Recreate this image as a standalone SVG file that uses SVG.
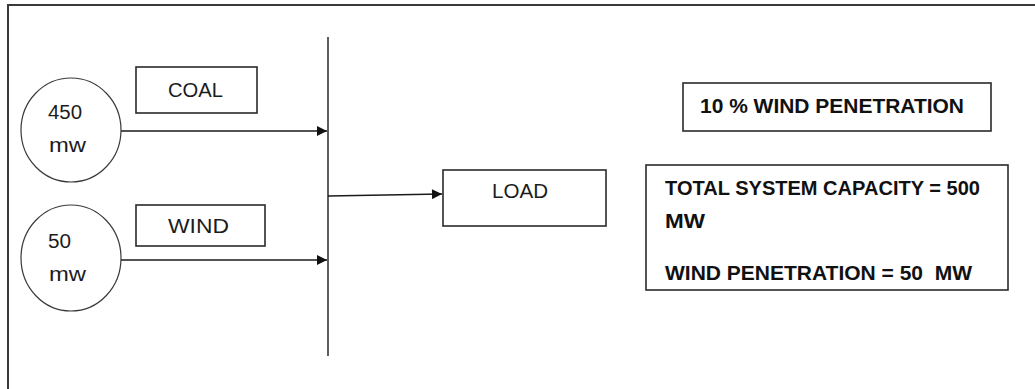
<svg xmlns="http://www.w3.org/2000/svg" width="1035" height="389" viewBox="0 0 1035 389">
<style>
.frame{fill:none;stroke:#3a3a3a;stroke-width:2}
.box{fill:#fff;stroke:#2a2a2a;stroke-width:1.6}
.circ{fill:#fff;stroke:#3a3a3a;stroke-width:1.2}
.line{fill:none;stroke:#1a1a1a;stroke-width:1.4}
.t{font-family:"Liberation Sans",Arial,sans-serif;font-size:20px;fill:#1c1c1c}
.b{font-family:"Liberation Sans",Arial,sans-serif;font-size:19.5px;font-weight:bold;fill:#111}
</style>
<defs>
<marker id="ah" viewBox="0 0 10 10" refX="10" refY="5" markerWidth="12" markerHeight="10" markerUnits="userSpaceOnUse" orient="auto"><path d="M0,0 L10,5 L0,10 z" fill="#111"/></marker>
</defs>
<rect width="1035" height="389" fill="#fff"/>
<path class="frame" d="M8,389 V5 H1035"/>
<g id="connectors">
<line class="line" x1="328" y1="37" x2="328" y2="356"/>
<line class="line" x1="121" y1="131" x2="327" y2="131" marker-end="url(#ah)"/>
<line class="line" x1="121" y1="260" x2="327" y2="260" marker-end="url(#ah)"/>
<line class="line" x1="328" y1="196" x2="442" y2="194" marker-end="url(#ah)"/>
</g>
<g id="gen450">
<ellipse class="circ" cx="71" cy="130" rx="50" ry="52"/>
<text class="t" x="48" y="119" textLength="34" lengthAdjust="spacingAndGlyphs">450</text>
<text class="t" x="49" y="152" textLength="37" lengthAdjust="spacingAndGlyphs">mw</text>
</g>
<g id="gen50">
<ellipse class="circ" cx="71" cy="258" rx="50" ry="53"/>
<text class="t" x="48" y="248" textLength="23" lengthAdjust="spacingAndGlyphs">50</text>
<text class="t" x="49" y="281" textLength="37" lengthAdjust="spacingAndGlyphs">mw</text>
</g>
<g id="coal">
<rect class="box" x="136" y="67" width="121" height="46"/>
<text class="t" x="168" y="97" textLength="55" lengthAdjust="spacingAndGlyphs">COAL</text>
</g>
<g id="wind">
<rect class="box" x="136" y="205" width="129" height="41"/>
<text class="t" x="168" y="233" textLength="61" lengthAdjust="spacingAndGlyphs">WIND</text>
</g>
<g id="load">
<rect class="box" x="443" y="170" width="163" height="56"/>
<text class="t" x="492" y="198" textLength="56" lengthAdjust="spacingAndGlyphs">LOAD</text>
</g>
<g id="penetration">
<rect class="box" x="683" y="83" width="308" height="48"/>
<text class="b" x="700" y="113" textLength="264" lengthAdjust="spacingAndGlyphs">10 % WIND PENETRATION</text>
</g>
<g id="capacity">
<rect class="box" x="646" y="165" width="362" height="125"/>
<text class="b" x="665" y="195" textLength="315" lengthAdjust="spacingAndGlyphs">TOTAL SYSTEM CAPACITY = 500</text>
<text class="b" x="665" y="228" textLength="40" lengthAdjust="spacingAndGlyphs">MW</text>
<text class="b" x="665" y="280" textLength="307" lengthAdjust="spacingAndGlyphs" xml:space="preserve">WIND PENETRATION = 50  MW</text>
</g>
</svg>
